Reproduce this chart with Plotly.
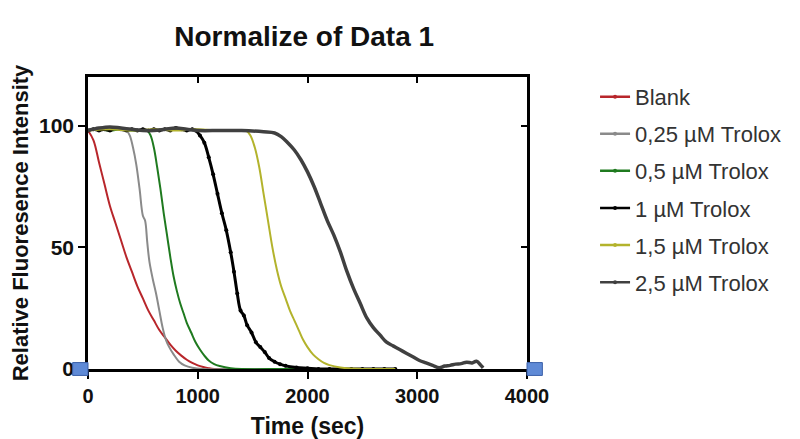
"""
Normalized fluorescence decay curves (ORAC-style Trolox series)
"""
import plotly.graph_objects as go

# Time points (sec) and normalized intensity for each series
blank_t = [0, 50, 100, 150, 200, 250, 300, 350, 400, 450, 500, 550, 600, 650, 700,
           750, 800, 850, 900, 950, 1000, 1050, 1100, 1150, 1300, 1600, 2000, 2400, 2800]
blank_v = [98, 94, 85, 76, 67, 60, 53, 46, 40, 34, 29, 24, 20, 16, 13,
           10, 7.5, 5.5, 3.8, 2.5, 1.5, 0.8, 0.3, 0, 0, 0, 0, 0, 0]

t025_t = [0, 100, 200, 300, 350, 380, 410, 440, 470, 500, 520, 540, 560, 590, 620,
          650, 680, 710, 740, 780, 830, 880, 950, 1050, 1400, 1800, 2200, 2600, 2800]
t025_v = [98, 98.5, 98, 98.5, 98, 96, 91, 84, 74, 63, 61, 52, 44, 37, 31,
          24, 17, 12, 9, 6, 3, 1.5, 0.5, 0, 0, 0, 0, 0, 0]

t05_t = [0, 100, 200, 300, 400, 500, 540, 570, 600, 630, 660, 690, 720, 750, 780,
         810, 840, 870, 900, 940, 980, 1020, 1060, 1100, 1150, 1200, 1300, 1400,
         1800, 2200, 2600, 2800]
t05_v = [98, 98.5, 98, 98.5, 98, 98, 98, 96, 91, 83, 74, 64, 55, 46, 38,
         32, 27, 23, 19, 15, 11, 8, 5.5, 3.5, 2, 1.2, 0.3, 0,
         0, 0, 0, 0]

t1_t = [0, 50, 100, 150, 200, 250, 300, 350, 400, 450, 500, 550, 600, 650, 700, 750,
        800, 850, 900, 950, 980, 1020, 1060, 1100, 1140, 1180, 1220, 1260, 1300,
        1330, 1360, 1390, 1420, 1450, 1490, 1530, 1570, 1610, 1650, 1700, 1750,
        1800, 1900, 2000, 2100, 2200, 2300, 2400, 2500, 2600, 2700, 2800]
t1_v = [98, 98.5, 98, 98.5, 98, 99, 98.5, 98, 98.5, 98, 98.5, 98, 98.5, 98, 98.5, 98,
        99, 98.5, 98, 98.5, 98, 96, 93, 87, 80, 72, 64, 57, 48,
        40, 31, 24, 22, 18, 15, 11, 9, 7, 4.5, 3, 2,
        1.3, 0.6, 0.3, 0, 0, 0, 0, 0, 0, 0, 0]

t15_t = [0, 200, 400, 600, 800, 1000, 1200, 1400, 1440, 1480, 1520, 1560, 1600, 1640,
         1680, 1720, 1760, 1800, 1840, 1880, 1920, 1960, 2000, 2050, 2100, 2150,
         2200, 2300, 2400, 2500, 2800]
t15_v = [98, 98.5, 98, 98.5, 98, 98.5, 98, 98, 98, 96, 91, 83, 72, 61,
         50, 41, 34, 29, 24, 20, 16, 12, 9, 6, 4, 2.5,
         1.6, 0.6, 0.2, 0, 0]

t25_t = [0, 100, 200, 300, 400, 500, 600, 700, 800, 900, 1000, 1200, 1400, 1600,
         1700, 1760, 1820, 1880, 1940, 2000, 2060, 2120, 2180, 2240, 2300, 2360,
         2420, 2480, 2540, 2600, 2660, 2720, 2780, 2840, 2900, 2960, 3020, 3080,
         3140, 3200, 3250, 3300, 3350, 3400, 3450, 3500, 3540, 3580, 3600]
t25_v = [98, 99, 99.5, 99, 98.5, 98, 98, 98.5, 99, 98.5, 98, 98, 98, 97.5,
         97, 95.5, 93, 90, 86, 81, 75, 68, 61, 55, 48, 40,
         33, 27, 21, 17, 14, 11, 9.5, 8, 6.5, 5, 3.5, 2.5,
         1.5, 0.5, 1.2, 1.5, 2, 2.2, 2.8, 2.5, 3.2, 1.5, 0.5]

names = ['Blank', '0,25 µM Trolox', '0,5 µM Trolox', '1 µM Trolox',
         '1,5 µM Trolox', '2,5 µM Trolox']
colors = ['#b8262b', '#8a8a8a', '#1f7a1f', '#000000', '#b3b32c', '#404040']
widths = [2, 2, 2, 3, 2, 3.5]

x_ticks = [0, 1000, 2000, 3000, 4000]
y_ticks = [0, 50, 100]

series = [(blank_t, blank_v), (t025_t, t025_v), (t05_t, t05_v),
          (t1_t, t1_v), (t15_t, t15_v), (t25_t, t25_v)]

fig = go.Figure()

# draw the curves (later series on top, as in the original)
for i, (t, v) in enumerate(series):
    is_dots = names[i] == '1 µM Trolox'
    fig.add_trace(go.Scatter(
        x=t, y=v, name=names[i], legendgroup=names[i], showlegend=False,
        mode='lines+markers' if is_dots else 'lines',
        line=dict(color=colors[i], width=widths[i], shape='spline'),
        marker=dict(size=4, color=colors[i]),
        hoverinfo='x+y+name'))

# legend entries: line with a small dot
for i in range(len(names)):
    fig.add_trace(go.Scatter(
        x=[None], y=[None], name=names[i], legendgroup=names[i],
        mode='lines+markers',
        line=dict(color=colors[i], width=2.5),
        marker=dict(size=4, color=colors[i])))

# empty trace so the mirrored inward-tick axes get drawn
fig.add_trace(go.Scatter(x=[None], y=[None], xaxis='x2', yaxis='y2',
                         showlegend=False, hoverinfo='skip'))

font_family = 'Arial, Liberation Sans, sans-serif'

axis_common = dict(tickwidth=2, tickcolor='black', showline=True, linecolor='black',
                   linewidth=2.5, showgrid=False, zeroline=False, automargin=False)

# page body adds an 8px margin, so the figure is 8px smaller on each axis
fig.update_layout(
    width=792, height=431,
    margin=dict(l=80, r=273, t=69, b=70),
    plot_bgcolor='white', paper_bgcolor='white',
    font=dict(family=font_family, color='#111111'),
    title=dict(text='<b>Normalize of Data 1</b>', x=0.374, xanchor='center',
               y=0.935, yref='container', yanchor='middle',
               font=dict(size=28, color='#111111')),
    xaxis=dict(range=[0, 4000], tickvals=x_ticks, ticks='outside', ticklen=7,
               tickfont=dict(size=20, family=font_family, weight='bold'),
               title=dict(text='<b>Time (sec)</b>', font=dict(size=23), standoff=14),
               **axis_common),
    yaxis=dict(range=[0, 120], tickvals=y_ticks, ticks='outside', ticklen=7,
               tickfont=dict(size=21, family=font_family, weight='bold'),
               title=dict(text='<b>Relative Fluoresence Intensity</b>',
                          font=dict(size=22), standoff=10),
               **axis_common),
    xaxis2=dict(range=[0, 4000], tickvals=x_ticks, overlaying='x', side='top',
                ticks='inside', ticklen=6, showticklabels=False, **axis_common),
    yaxis2=dict(range=[0, 120], tickvals=y_ticks, overlaying='y', side='right',
                ticks='inside', ticklen=6, showticklabels=False, **axis_common),
    legend=dict(x=1.155, xanchor='left', y=1.004, yanchor='top',
                font=dict(size=22, color='#333333'), traceorder='grouped',
                tracegroupgap=5.5, bgcolor='rgba(0,0,0,0)', itemwidth=30,
                maxheight=400),
    showlegend=True,
)

# small blue handles at both ends of the x axis
for x0, x1 in [(-0.035, 0.0), (1.0, 1.035)]:
    fig.add_shape(type='rect', xref='x domain', yref='y domain',
                  x0=x0, x1=x1, y0=-0.022, y1=0.022,
                  fillcolor='#5f8ad6', line=dict(color='#3a5fa8', width=1),
                  layer='above')

fig.write_html("out.html")
